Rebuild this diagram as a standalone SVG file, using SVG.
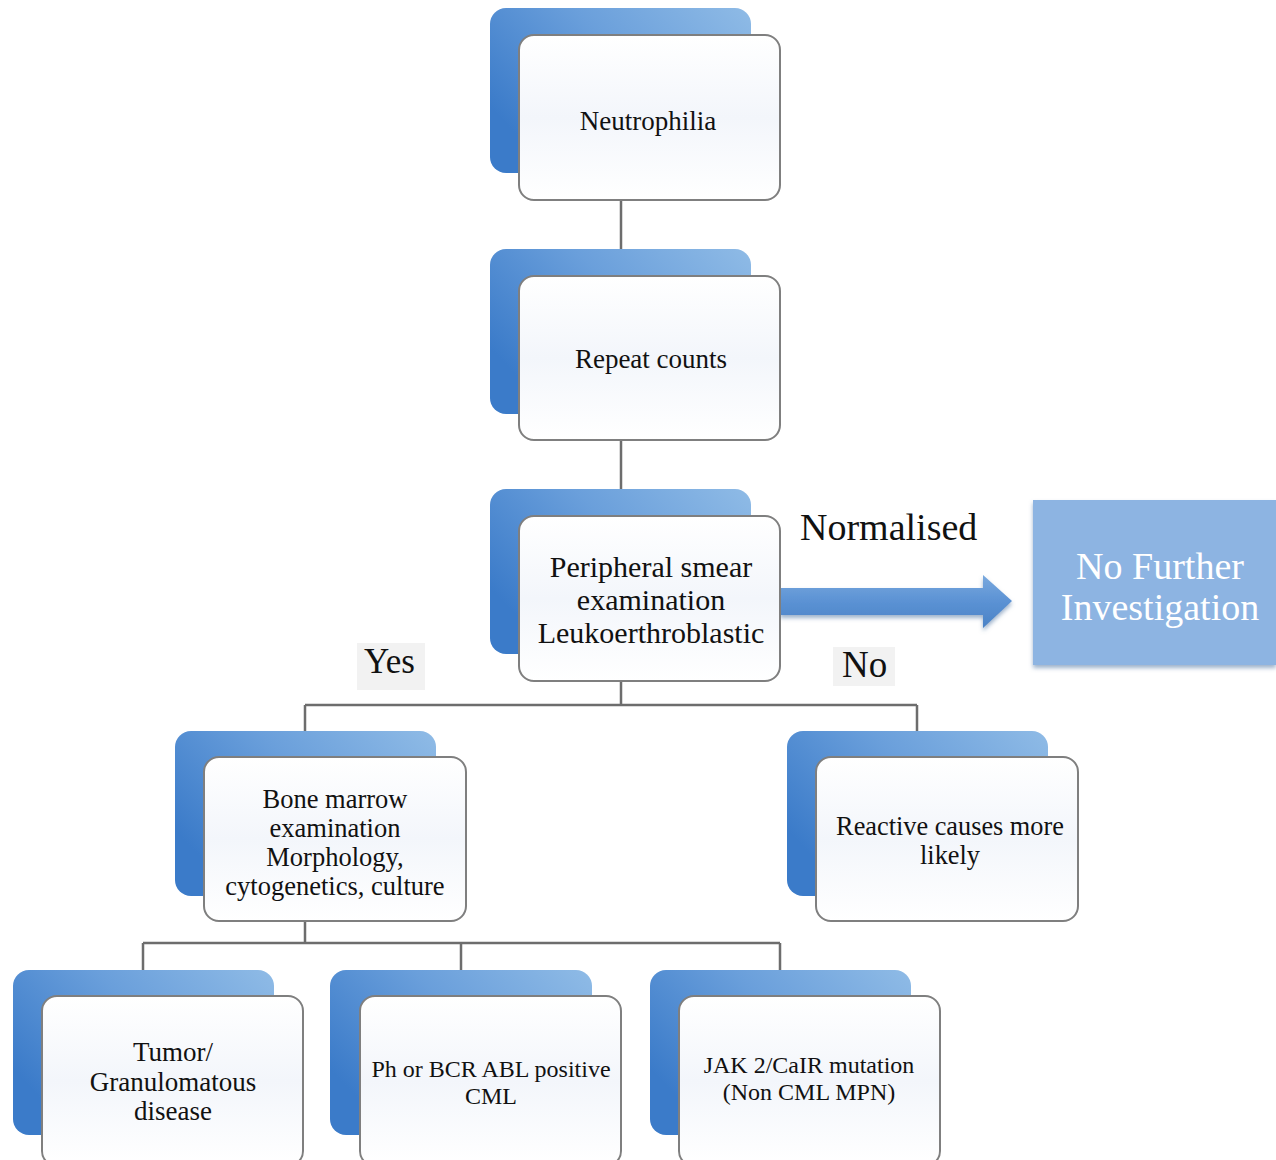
<svg xmlns="http://www.w3.org/2000/svg" width="1276" height="1160" viewBox="0 0 1276 1160">
<defs>
<linearGradient id="bg" x1="1" y1="0" x2="0" y2="0.6">
<stop offset="0" stop-color="#8fbbe6"/>
<stop offset="0.5" stop-color="#6a9fdb"/>
<stop offset="1" stop-color="#3b7bc9"/>
</linearGradient>
<linearGradient id="fg" x1="0" y1="0" x2="0" y2="1">
<stop offset="0" stop-color="#ffffff"/>
<stop offset="0.5" stop-color="#f3f6fb"/>
<stop offset="1" stop-color="#ffffff"/>
</linearGradient>
<linearGradient id="ag" x1="0" y1="0" x2="0" y2="1">
<stop offset="0" stop-color="#7aa9de"/>
<stop offset="0.5" stop-color="#5b92d4"/>
<stop offset="1" stop-color="#4a82c6"/>
</linearGradient>
<filter id="sh" x="-5%" y="-5%" width="115%" height="120%">
<feDropShadow dx="0" dy="3" stdDeviation="2" flood-color="#5b7fa8" flood-opacity="0.6"/>
</filter>
</defs>
<style>
.back{fill:url(#bg);}
.front{fill:url(#fg);stroke:#7f7f7f;stroke-width:2;}
.t{font-family:"Liberation Serif","Times New Roman",serif;fill:#111;text-anchor:middle;}
.con{stroke:#6d6d6d;stroke-width:2.5;fill:none;}
.lbl{font-family:"Liberation Serif","Times New Roman",serif;fill:#111;}
</style>
<rect width="1276" height="1160" fill="#ffffff"/>
<g id="connectors">
<path class="con" d="M621 200V276M621 440V516M621 681V705M305 705H917M305 705V735M917 705V735M305 921V943M143 943H780M143 943V975M461 943V975M780 943V975"/>
<path d="M780 588H983V575L1012 601L983 628V615H780Z" fill="url(#ag)" filter="url(#sh)"/>
</g>
<g id="n1">
<rect class="back" x="490" y="8" width="261" height="165" rx="16"/>
<rect class="front" x="519" y="35" width="261" height="165" rx="15"/>
<text class="t" x="648" y="130" font-size="27">Neutrophilia</text>
</g>
<g id="n2">
<rect class="back" x="490" y="249" width="261" height="165" rx="16"/>
<rect class="front" x="519" y="276" width="261" height="164" rx="15"/>
<text class="t" x="651" y="368" font-size="27">Repeat counts</text>
</g>
<g id="n3">
<rect class="back" x="490" y="489" width="261" height="165" rx="16"/>
<rect class="front" x="519" y="516" width="261" height="165" rx="15"/>
<text class="t" x="651" y="577" font-size="30">Peripheral smear</text>
<text class="t" x="651" y="610" font-size="30">examination</text>
<text class="t" x="651" y="643" font-size="30">Leukoerthroblastic</text>
</g>
<g id="n4">
<rect x="1033" y="500" width="243" height="165" fill="#8db4e2" filter="url(#sh)"/>
<text class="t" x="1160" y="579" font-size="38" style="fill:#ffffff">No Further</text>
<text class="t" x="1160" y="620" font-size="38" style="fill:#ffffff">Investigation</text>
</g>
<g id="n5">
<rect class="back" x="175" y="731" width="261" height="165" rx="16"/>
<rect class="front" x="204" y="757" width="262" height="164" rx="15"/>
<text class="t" x="335" y="808" font-size="26.5">Bone marrow</text>
<text class="t" x="335" y="837" font-size="26.5">examination</text>
<text class="t" x="335" y="866" font-size="26.5">Morphology,</text>
<text class="t" x="335" y="895" font-size="26.5">cytogenetics, culture</text>
</g>
<g id="n6">
<rect class="back" x="787" y="731" width="261" height="165" rx="16"/>
<rect class="front" x="816" y="757" width="262" height="164" rx="15"/>
<text class="t" x="950" y="835" font-size="26.3">Reactive causes more</text>
<text class="t" x="950" y="864" font-size="26.3">likely</text>
</g>
<g id="n7">
<rect class="back" x="13" y="970" width="261" height="165" rx="16"/>
<rect class="front" x="42" y="996" width="261" height="170" rx="15"/>
<text class="t" x="173" y="1061" font-size="27">Tumor/</text>
<text class="t" x="173" y="1091" font-size="27">Granulomatous</text>
<text class="t" x="173" y="1120" font-size="27">disease</text>
</g>
<g id="n8">
<rect class="back" x="330" y="970" width="262" height="165" rx="16"/>
<rect class="front" x="360" y="996" width="261" height="170" rx="15"/>
<text class="t" x="491" y="1077" font-size="24">Ph or BCR ABL positive</text>
<text class="t" x="491" y="1104" font-size="24">CML</text>
</g>
<g id="n9">
<rect class="back" x="650" y="970" width="261" height="165" rx="16"/>
<rect class="front" x="679" y="996" width="261" height="170" rx="15"/>
<text class="t" x="809" y="1073" font-size="24">JAK 2/CaIR mutation</text>
<text class="t" x="809" y="1100" font-size="24">(Non CML MPN)</text>
</g>
<g id="labels">
<text class="lbl" x="800" y="540" font-size="38">Normalised</text>
<rect x="357" y="643" width="68" height="47" fill="#f2f2f2"/>
<text class="lbl" x="364" y="673" font-size="35">Yes</text>
<rect x="833" y="647" width="62" height="39" fill="#f2f2f2"/>
<text class="lbl" x="842" y="677" font-size="37">No</text>
</g>
</svg>
